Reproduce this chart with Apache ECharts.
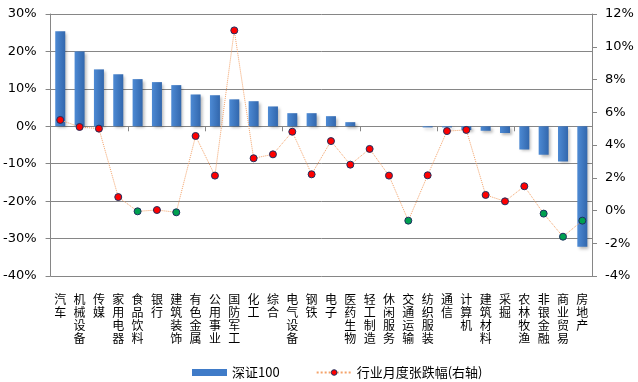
<!DOCTYPE html>
<html>
<head>
<meta charset="utf-8">
<script src="https://cdn.jsdelivr.net/npm/echarts@6/dist/echarts.min.js"></script>
<style>html,body{margin:0;padding:0;background:#fff}#c{width:638px;height:382px}</style>
</head>
<body>
<div id="c"></div>
<script>
var categories = ['汽车','机械设备','传媒','家用电器','食品饮料','银行','建筑装饰','有色金属','公用事业','国防军工','化工','综合','电气设备','钢铁','电子','医药生物','轻工制造','休闲服务','交通运输','纺织服装','通信','计算机','建筑材料','采掘','农林牧渔','非银金融','商业贸易','房地产'];
var szValues = [25.4, 20.0, 15.2, 13.9, 12.6, 11.8, 11.0, 8.5, 8.3, 7.2, 6.7, 5.3, 3.5, 3.5, 2.7, 1.1, 0, 0, 0, -0.3, -0.3, -1.0, -1.2, -1.8, -6.2, -7.6, -9.4, -32.2];
var monthValues = [5.53, 5.1, 5.0, 0.82, -0.05, 0.03, -0.11, 4.55, 2.13, 11.0, 3.19, 3.43, 4.81, 2.21, 4.24, 2.8, 3.76, 2.13, -0.62, 2.15, 4.85, 4.92, 0.95, 0.56, 1.48, -0.19, -1.6, -0.62];
var leftTicks = {min: -40, max: 30, interval: 10};
var rightTicks = {min: -4, max: 12, interval: 2};

var numFont = 'DejaVu Sans';
var cjkFont = 'Noto Sans CJK SC';
var chart = echarts.init(document.getElementById('c'));
chart.setOption({
  animation: false,
  backgroundColor: '#fff',
  grid: {left: 50, right: 46, top: 14, bottom: 106},
  legend: {
    left: 187, top: 361,
    itemGap: 36,
    textStyle: {fontFamily: cjkFont, fontSize: 13, color: '#000'},
    data: [
      {name: '深证100', icon: 'rect', itemStyle: {color: '#3f7bc8'}},
      {name: '行业月度张跌幅(右轴)', itemStyle: {color: '#ff0000', borderColor: '#1f2f5f', borderWidth: 1}}
    ],
    itemWidth: 35, itemHeight: 7
  },
  xAxis: [
    {
      type: 'category', data: categories, position: 'bottom',
      axisLine: {show: false, onZero: false},
      axisTick: {show: false},
      axisLabel: {
        interval: 0, margin: 17, fontFamily: cjkFont, fontSize: 12, color: '#000', lineHeight: 13,
        verticalAlign: 'top',
        formatter: function (v) { return v.split('').join('\n'); }
      }
    },
    {
      type: 'category', data: categories, position: 'bottom',
      axisLine: {show: true, onZero: true, onZeroAxisIndex: 0, lineStyle: {color: '#868686', width: 1}},
      axisTick: {show: true, length: 5, lineStyle: {color: '#868686'}},
      axisLabel: {show: false}
    }
  ],
  yAxis: [
    {
      type: 'value', min: leftTicks.min, max: leftTicks.max, interval: leftTicks.interval,
      axisLine: {show: true, lineStyle: {color: '#868686'}},
      axisTick: {show: true, length: 5, lineStyle: {color: '#868686'}},
      splitLine: {show: true, lineStyle: {color: '#868686', width: 1}},
      axisLabel: {formatter: '{value}%', fontFamily: numFont, fontSize: 13, color: '#000', margin: 14}
    },
    {
      type: 'value', min: rightTicks.min, max: rightTicks.max, interval: rightTicks.interval,
      position: 'right',
      axisLine: {show: true, lineStyle: {color: '#868686'}},
      axisTick: {show: true, length: 5, lineStyle: {color: '#868686'}},
      splitLine: {show: false},
      axisLabel: {formatter: '{value}%', fontFamily: numFont, fontSize: 13, color: '#000', margin: 13}
    }
  ],
  series: [
    {
      name: '深证100', type: 'bar', xAxisIndex: 0, yAxisIndex: 0, data: szValues, barWidth: 10,
      itemStyle: {
        color: new echarts.graphic.LinearGradient(0, 0, 1, 0, [
          {offset: 0, color: '#4d8ad4'}, {offset: 1, color: '#3267ad'}
        ]),
        shadowColor: 'rgba(0,0,0,0.28)', shadowBlur: 3, shadowOffsetX: 2, shadowOffsetY: 2
      }
    },
    {
      name: '行业月度张跌幅(右轴)', type: 'line', xAxisIndex: 0, yAxisIndex: 1, data: monthValues,
      symbol: 'circle', symbolSize: 7,
      lineStyle: {color: '#f4a36a', width: 1, type: 'dotted'},
      itemStyle: {
        color: function (p) { return p.value >= 0 ? '#ff0000' : '#00a050'; },
        borderColor: '#1f2f5f', borderWidth: 1
      },
      z: 5
    }
  ]
});
</script>
</body>
</html>
